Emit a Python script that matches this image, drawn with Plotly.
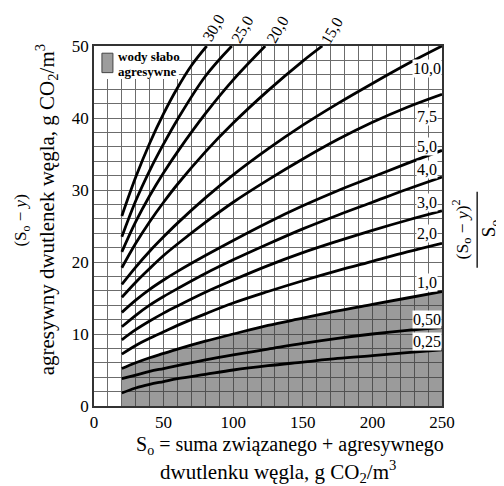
import plotly.graph_objects as go

# S0 values (x) at which curves were read
S_full = [20, 30, 40, 50, 60, 80, 100, 125, 150, 175, 200, 225, 250]

# (S0 - y) values read for each curve, keyed by its label (S0-y)^2/S0
curves = {
    "0,25": (S_full, [1.8, 2.5, 3.0, 3.4, 3.8, 4.4, 5.0, 5.6, 6.1, 6.6, 7.0, 7.4, 7.8]),
    "0,50": (S_full, [3.8, 4.3, 4.8, 5.2, 5.6, 6.4, 7.1, 7.9, 8.7, 9.4, 10.0, 10.5, 10.9]),
    "1,0": (S_full, [5.2, 6.0, 6.7, 7.3, 7.9, 9.0, 10.0, 11.2, 12.2, 13.2, 14.1, 15.0, 15.9]),
    "2,0": (S_full, [7.2, 8.4, 9.4, 10.3, 11.2, 12.8, 14.3, 15.9, 17.4, 18.8, 20.1, 21.4, 22.6]),
    "3,0": (S_full, [9.2, 10.6, 11.8, 12.9, 13.9, 15.8, 17.5, 19.5, 21.3, 22.9, 24.4, 25.8, 27.1]),
    "4,0": (S_full, [11.0, 12.6, 14.0, 15.2, 16.3, 18.4, 20.3, 22.5, 24.6, 26.5, 28.3, 30.1, 31.8]),
    "5,0": (S_full, [13.0, 14.7, 16.2, 17.5, 18.7, 20.9, 23.0, 25.5, 27.8, 29.9, 31.8, 33.7, 35.5]),
    "7,5": (S_full, [15.1, 17.2, 19.1, 20.9, 22.5, 25.5, 28.3, 31.4, 34.3, 37.0, 39.4, 41.5, 43.3]),
    "10,0": (S_full, [16.9, 19.3, 21.5, 23.5, 25.4, 28.9, 32.1, 35.7, 39.0, 42.0, 44.8, 47.5, 50.0]),
    "15,0": ([20, 30, 40, 50, 60, 80, 100, 125, 150, 164], [19.2, 22.6, 25.6, 28.3, 30.8, 35.3, 39.3, 43.8, 47.9, 50.0]),
    "20,0": ([20, 30, 40, 50, 60, 80, 100, 123], [21.4, 25.6, 29.2, 32.4, 35.3, 40.6, 45.3, 50.0]),
    "25,0": ([20, 30, 40, 50, 60, 80, 99], [23.5, 28.5, 32.7, 36.4, 39.8, 45.8, 50.0]),
    "30,0": ([20, 30, 40, 50, 60, 70, 81], [26.4, 31.8, 36.5, 40.6, 44.2, 47.3, 50.0]),
}

# curve label positions
right_labels = ["10,0", "7,5", "5,0", "4,0", "3,0", "2,0", "1,0", "0,50", "0,25"]
right_label_y = [46.9, 40.2, 36.1, 32.9, 28.2, 23.9, 17.1, 12.0, 8.9]
top_labels = ["30,0", "25,0", "20,0", "15,0"]
top_label_x = [86.2, 106.3, 131.5, 171.0]
top_label_y = [1.050, 1.047, 1.047, 1.042]

x_ticks = [0, 50, 100, 150, 200, 250]
y_ticks = [0, 10, 20, 30, 40, 50]

FONT = "Liberation Serif"
FILL = "rgba(55,55,55,0.5)"
GRID = "#6c6c6c"
GW = 1.3

fig = go.Figure()

# shaded region: weakly aggressive waters (below the 1,0 curve)
xs1, ys1 = curves["1,0"]
fig.add_trace(go.Scatter(x=xs1, y=ys1, mode="lines", line=dict(width=0, shape="spline"),
                         fill="tozeroy", fillcolor=FILL, hoverinfo="skip", showlegend=False))

for name, (xs, ys) in curves.items():
    fig.add_trace(go.Scatter(x=xs, y=ys, mode="lines",
                             line=dict(color="black", width=2.8, shape="spline"),
                             showlegend=False, name=name))

annotations = []
for lab, yv in zip(right_labels, right_label_y):
    annotations.append(dict(x=239, y=yv, xref="x", yref="y", text=lab, showarrow=False,
                            font=dict(family=FONT, size=16, color="black"), bgcolor="white",
                            borderpad=0, xanchor="center", yanchor="middle"))
for lab, xv, yv in zip(top_labels, top_label_x, top_label_y):
    annotations.append(dict(x=xv, y=yv, xref="x", yref="paper", text=lab, showarrow=False,
                            textangle=-60, font=dict(family=FONT, size=16, color="black"),
                            xanchor="center", yanchor="middle"))

# legend box text (two lines)
annotations.append(dict(x=16.0, y=48.6, xref="x", yref="y", text="<b>wody słabo</b>",
                        showarrow=False, xanchor="left", yanchor="middle",
                        font=dict(family=FONT, size=13, color="black")))
annotations.append(dict(x=16.0, y=46.5, xref="x", yref="y", text="<b>agresywne</b>",
                        showarrow=False, xanchor="left", yanchor="middle",
                        font=dict(family=FONT, size=13, color="black")))

# right-hand fraction label
annotations.append(dict(x=1.057, y=0.49, xref="paper", yref="paper",
                        text="(S<sub>o</sub> − <i>y</i>)<sup>2</sup>", showarrow=False, textangle=-90,
                        font=dict(family=FONT, size=17.5, color="black"), xanchor="center", yanchor="middle"))
annotations.append(dict(x=1.136, y=0.495, xref="paper", yref="paper",
                        text="S<sub>o</sub>", showarrow=False, textangle=-90,
                        font=dict(family=FONT, size=19, color="black"), xanchor="center", yanchor="middle"))

# left axis title (two lines)
annotations.append(dict(x=-0.207, y=0.515, xref="paper", yref="paper",
                        text="(S<sub>o</sub> − <i>y</i>)", showarrow=False, textangle=-90,
                        font=dict(family=FONT, size=17, color="black"), xanchor="center", yanchor="middle"))
annotations.append(dict(x=-0.1365, y=0.545, xref="paper", yref="paper",
                        text="agresywny dwutlenek węgla, g CO<sub>2</sub>/m<sup>3</sup>", showarrow=False,
                        textangle=-90, font=dict(family=FONT, size=21, color="black"),
                        xanchor="center", yanchor="middle"))

# bottom axis title (two lines)
annotations.append(dict(x=0.563, y=-0.111, xref="paper", yref="paper",
                        text="S<sub>o</sub> = suma związanego + agresywnego", showarrow=False,
                        font=dict(family=FONT, size=20, color="black"), xanchor="center", yanchor="middle"))
annotations.append(dict(x=0.530, y=-0.182, xref="paper", yref="paper",
                        text="dwutlenku węgla, g CO<sub>2</sub>/m<sup>3</sup>", showarrow=False,
                        font=dict(family=FONT, size=21, color="black"), xanchor="center", yanchor="middle"))

shapes = [
    dict(type="rect", xref="x", yref="y", x0=0, x1=61, y0=45.4, y1=50, fillcolor="white",
         line=dict(width=0), layer="above"),
    dict(type="rect", xref="x", yref="y", x0=5.7, x1=13.6, y0=46.3, y1=49.0, fillcolor="#9d9d9d",
         line=dict(width=1, color="#444"), layer="above"),
    dict(type="line", xref="paper", yref="paper", x0=1.101, x1=1.101, y0=0.384, y1=0.595,
         line=dict(width=1.3, color="black")),
]

fig.update_layout(
    width=496, height=478,
    margin=dict(l=86, r=62, t=38, b=80),
    paper_bgcolor="white", plot_bgcolor="white",
    font=dict(family=FONT, color="black"),
    annotations=annotations, shapes=shapes,
)

fig.update_xaxes(range=[0, 250], tickvals=x_ticks, ticktext=[str(v) for v in x_ticks],
                 showgrid=True, gridcolor=GRID, gridwidth=GW,
                 minor=dict(dtick=10, tick0=0, showgrid=True, gridcolor=GRID, gridwidth=GW),
                 showline=True, linecolor="#333", linewidth=1.6, mirror=True,
                 ticks="", tickfont=dict(family=FONT, size=17, color="black"),
                 zeroline=False)
fig.update_yaxes(range=[0, 50], tickvals=y_ticks, ticktext=[str(v) for v in y_ticks],
                 showgrid=True, gridcolor=GRID, gridwidth=GW,
                 minor=dict(dtick=2, tick0=0, showgrid=True, gridcolor=GRID, gridwidth=GW),
                 showline=True, linecolor="#333", linewidth=1.6, mirror=True,
                 ticks="", tickfont=dict(family=FONT, size=17, color="black"),
                 zeroline=False)

fig.write_html("out.html")
